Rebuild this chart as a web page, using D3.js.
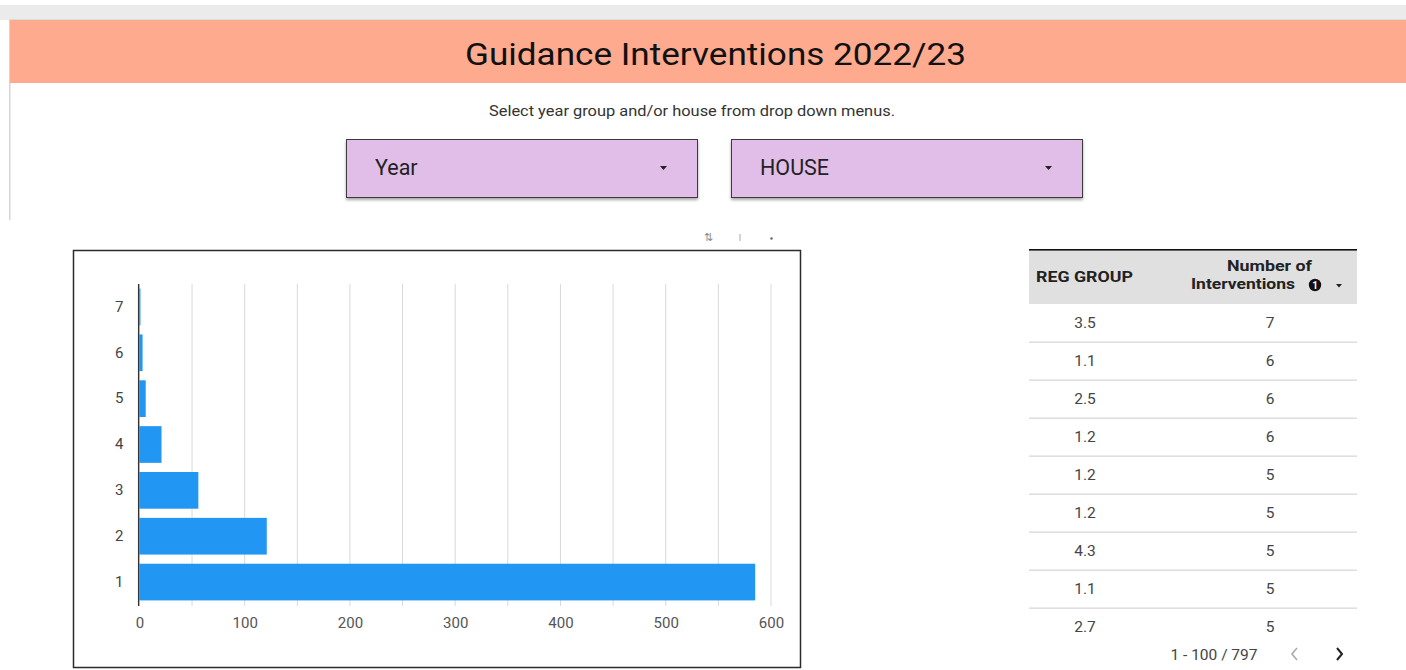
<!DOCTYPE html>
<html>
<head>
<meta charset="utf-8">
<script src="https://cdn.jsdelivr.net/npm/d3@7"></script>
<style>
  html, body { margin: 0; padding: 0; background: #fff; }
  svg { display: block; font-family: Roboto, "Noto Sans", sans-serif; }
</style>
</head>
<body>
<svg id="page" width="1406" height="670"></svg>
<script>
// ---- data ----
const categories = ["1", "2", "3", "4", "5", "6", "7"];
const counts = [585, 121, 56, 21, 6, 3, 1];
const xTickLabels = [0, 100, 200, 300, 400, 500, 600];
const gridValues = [0, 50, 100, 150, 200, 250, 300, 350, 400, 450, 500, 550, 600];
const tableRegGroup = ["3.5", "1.1", "2.5", "1.2", "1.2", "1.2", "4.3", "1.1", "2.7"];
const tableInterventions = [7, 6, 6, 6, 5, 5, 5, 5, 5];
const titleText = "Guidance Interventions 2022/23";
const subtitleText = "Select year group and/or house from drop down menus.";
const dropdownLabels = ["Year", "HOUSE"];
const paginationText = "1 - 100 / 797";

const svg = d3.select("#page");

// ---- page chrome ----
svg.append("rect").attr("x", 0).attr("y", 5).attr("width", 1406).attr("height", 15).attr("fill", "#ebebeb");
svg.append("rect").attr("x", 9).attr("y", 19).attr("width", 1397).attr("height", 1.5).attr("fill", "#dcdcdc");
svg.append("rect").attr("x", 9).attr("y", 20).attr("width", 1.5).attr("height", 200).attr("fill", "#d6d6d6");
svg.append("rect").attr("x", 10).attr("y", 20).attr("width", 1396).attr("height", 63).attr("fill", "#feaa8f");
svg.append("text").attr("x", 465).attr("y", 65)
  .attr("font-size", 31).attr("fill", "#111")
  .attr("textLength", 501).attr("lengthAdjust", "spacingAndGlyphs").text(titleText);
svg.append("text").attr("x", 489).attr("y", 116)
  .attr("font-size", 14.5).attr("fill", "#333")
  .attr("textLength", 406).attr("lengthAdjust", "spacingAndGlyphs").text(subtitleText);

// dropdowns
const ddX = [346, 731];
const defs = svg.append("defs");
const f = defs.append("filter").attr("id", "sh").attr("x", "-5%").attr("y", "-10%").attr("width", "110%").attr("height", "130%");
f.append("feDropShadow").attr("dx", 0).attr("dy", 2).attr("stdDeviation", 1.5).attr("flood-color", "#000").attr("flood-opacity", 0.35);
dropdownLabels.forEach((lab, i) => {
  const g = svg.append("g").attr("transform", `translate(${ddX[i]},139)`);
  g.append("rect").attr("x", 0.5).attr("y", 0.5).attr("width", 351).attr("height", 58)
    .attr("fill", "#e1bee7").attr("stroke", "#3a3a3a").attr("stroke-width", 1).attr("filter", "url(#sh)");
  g.append("text").attr("x", 29).attr("y", 36).attr("font-size", 21.5).attr("fill", "#222").text(lab);
  g.append("path").attr("d", "M314,27 l7,0 l-3.5,4 z").attr("fill", "#222");
});

// small toolbar icons above chart
svg.append("text").attr("x", 708).attr("y", 241).attr("text-anchor", "middle").attr("font-size", 11).attr("fill", "#888").text("⇅");
svg.append("rect").attr("x", 739.5).attr("y", 234).attr("width", 1).attr("height", 7).attr("fill", "#aaa");
svg.append("circle").attr("cx", 771.5).attr("cy", 238.5).attr("r", 1.2).attr("fill", "#666");

// ---- bar chart ----
svg.append("rect").attr("x", 73.5).attr("y", 250.5).attr("width", 727).attr("height", 417)
  .attr("fill", "#fff").attr("stroke", "#2b2b2b").attr("stroke-width", 1.5);

const x = d3.scaleLinear().domain([0, 600]).range([139.4, 771]);
const y = d3.scaleBand().domain(categories).range([605, 284]).paddingInner(0.2).paddingOuter(0.1);

// gridlines
svg.append("g").selectAll("line").data(gridValues).join("line")
  .attr("x1", d => x(d)).attr("x2", d => x(d))
  .attr("y1", 284).attr("y2", 606)
  .attr("stroke", "#d9d9d9").attr("stroke-width", 1);

// bars
svg.append("g").selectAll("rect").data(categories).join("rect")
  .attr("x", x(0)).attr("y", c => y(c))
  .attr("width", (c, i) => x(counts[i]) - x(0))
  .attr("height", y.bandwidth())
  .attr("fill", "#2196f3");

// x axis labels
const xAxis = d3.axisBottom(x).tickValues(xTickLabels).tickSize(0).tickPadding(11);
const gx = svg.append("g").attr("transform", "translate(0,606)").call(xAxis);
gx.select(".domain").remove();
gx.selectAll("text").attr("font-size", 15).attr("fill", "#555").attr("font-family", "Roboto, sans-serif");

// y axis
const yAxis = d3.axisLeft(y).tickSize(0).tickPadding(16);
const gy = svg.append("g").attr("transform", `translate(${x(0)},0)`).call(yAxis);
gy.select(".domain").remove();
gy.selectAll("text").attr("font-size", 15).attr("fill", "#444").attr("font-family", "Roboto, sans-serif");
svg.append("line").attr("x1", 138.6).attr("x2", 138.6).attr("y1", 284).attr("y2", 606)
  .attr("stroke", "#333").attr("stroke-width", 1.3);

// ---- table ----
const tx = 1029, tw = 328, rowH = 38, headTop = 249, headBot = 304;
svg.append("rect").attr("x", tx).attr("y", headTop).attr("width", tw).attr("height", headBot - headTop).attr("fill", "#e0e0e0");
svg.append("rect").attr("x", tx).attr("y", headTop).attr("width", tw).attr("height", 1.6).attr("fill", "#111");
svg.append("text").attr("x", 1036).attr("y", 281.5).attr("font-size", 14.5).attr("font-weight", "bold").attr("fill", "#222")
  .attr("textLength", 97).attr("lengthAdjust", "spacingAndGlyphs").text("REG GROUP");
svg.append("text").attr("x", 1227).attr("y", 270.5).attr("font-size", 14.5).attr("font-weight", "bold").attr("fill", "#222")
  .attr("textLength", 85).attr("lengthAdjust", "spacingAndGlyphs").text("Number of");
svg.append("text").attr("x", 1191).attr("y", 289).attr("font-size", 14.5).attr("font-weight", "bold").attr("fill", "#222")
  .attr("textLength", 104).attr("lengthAdjust", "spacingAndGlyphs").text("Interventions");
svg.append("circle").attr("cx", 1315).attr("cy", 285).attr("r", 6.2).attr("fill", "#111");
svg.append("text").attr("x", 1315).attr("y", 289).attr("text-anchor", "middle").attr("font-size", 10).attr("font-weight", "bold").attr("fill", "#fff").text("1");
svg.append("path").attr("d", "M1336,284 l6,0 l-3,3.5 z").attr("fill", "#222");

const rowsG = svg.append("g");
tableRegGroup.forEach((rg, i) => {
  const top = headBot + i * rowH;
  rowsG.append("text").attr("x", 1085).attr("y", top + 24).attr("text-anchor", "middle")
    .attr("font-size", 15.5).attr("fill", "#444").text(rg);
  rowsG.append("text").attr("x", 1270).attr("y", top + 24).attr("text-anchor", "middle")
    .attr("font-size", 15.5).attr("fill", "#444").text(tableInterventions[i]);
  if (i < tableRegGroup.length - 1) {
    rowsG.append("rect").attr("x", tx).attr("y", top + rowH - 0.5).attr("width", tw).attr("height", 1.3).attr("fill", "#d8d8d8");
  }
});
svg.append("text").attr("x", 1214).attr("y", 660).attr("text-anchor", "middle").attr("font-size", 15.5).attr("fill", "#444").text(paginationText);
svg.append("path").attr("d", "M1297,648 l-5,6 l5,6").attr("fill", "none").attr("stroke", "#aaa").attr("stroke-width", 1.6);
svg.append("path").attr("d", "M1337,648 l5,6 l-5,6").attr("fill", "none").attr("stroke", "#222").attr("stroke-width", 2);
</script>
</body>
</html>
